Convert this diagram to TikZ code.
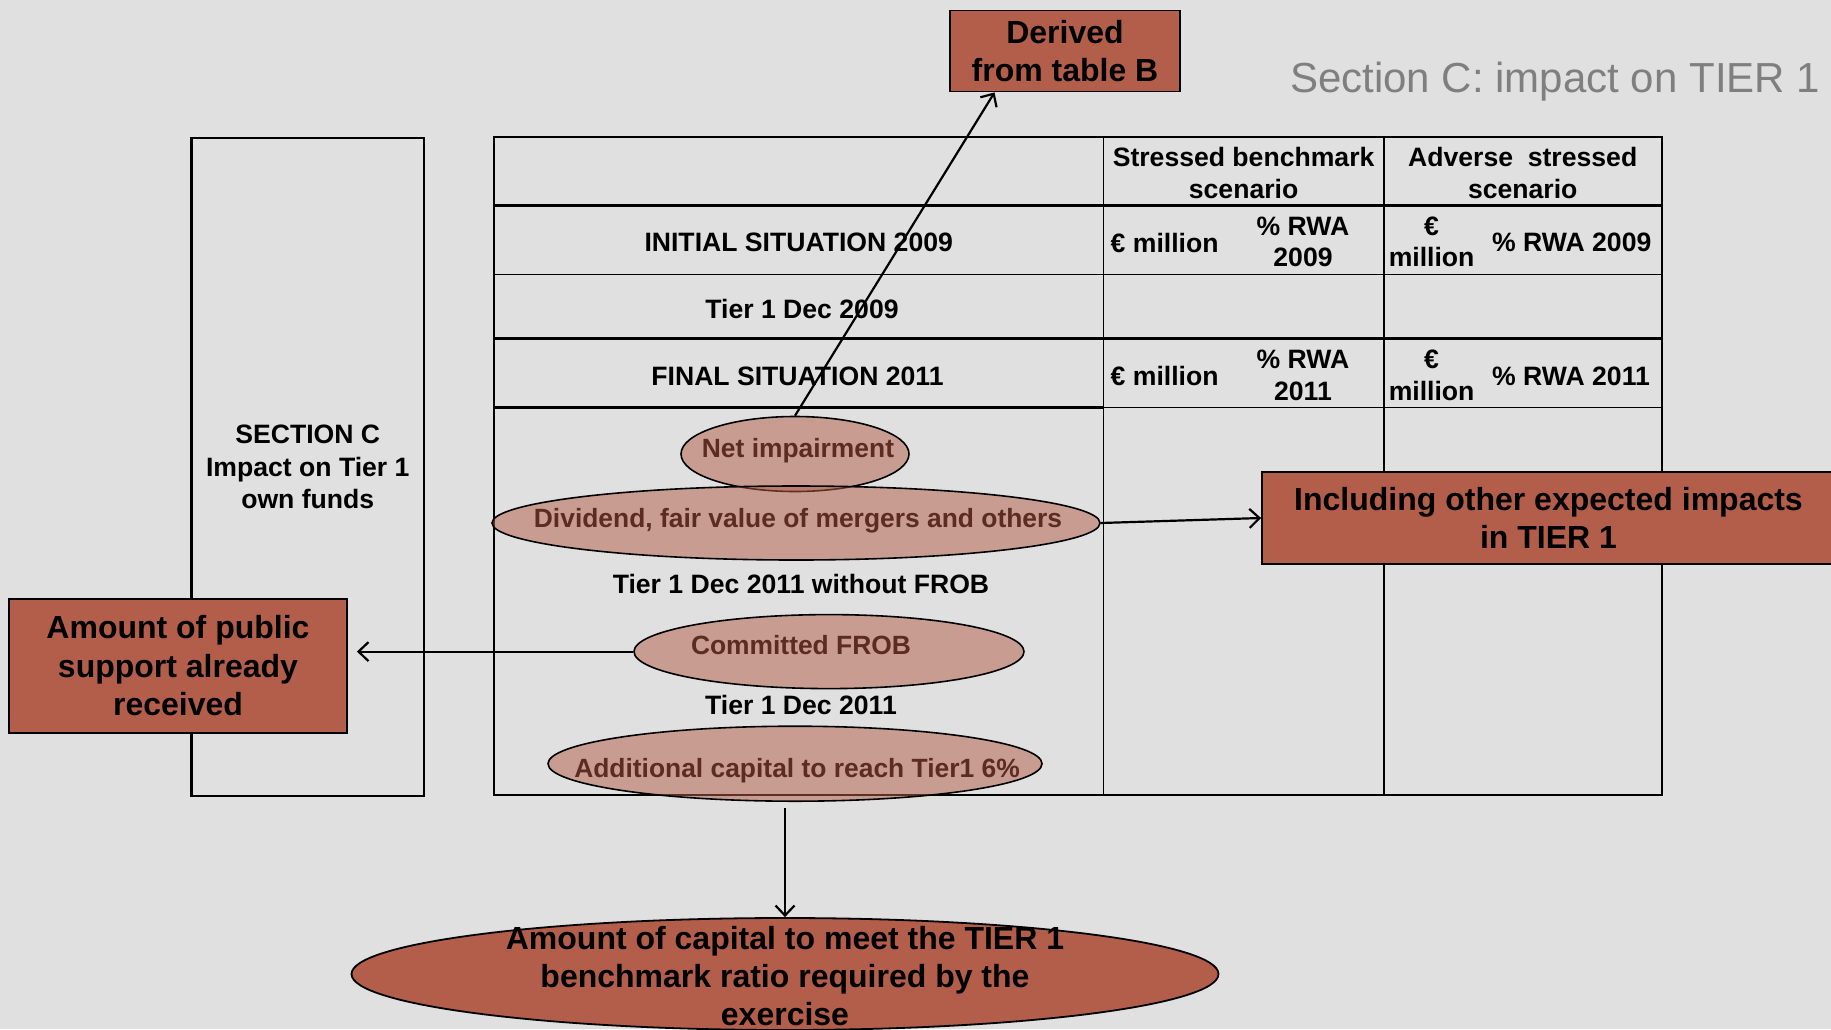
\documentclass[tikz,border=0pt]{standalone}
\usepackage{fontspec}
\setmainfont{Liberation Sans}
\usetikzlibrary{shapes.geometric,arrows.meta,calc}
\definecolor{bgc}{HTML}{E0E0E0}
\definecolor{rust}{HTML}{B35E4A}
\definecolor{elltxt}{HTML}{5C2B22}
\definecolor{titlegray}{HTML}{7F7F7F}
\begin{document}
\begin{tikzpicture}[x=1pt,y=-1pt,
  tabtxt/.style={inner sep=0pt, align=center, font=\fontsize{26.6}{31.5}\selectfont\bfseries},
  boxtxt/.style={draw, line width=1.8pt, fill=rust, inner sep=0pt, align=center, font=\fontsize{32}{38.5}\selectfont\bfseries},
  ellshape/.style={ellipse, draw, line width=1.6pt, fill=rust, fill opacity=0.52, inner sep=0pt},
  elltext/.style={inner sep=0pt, text=elltxt, font=\fontsize{26.4}{31.5}\selectfont\bfseries},
  arr/.style={line width=2.2pt, -{Straight Barb[length=10pt,width=19pt,line width=2.2pt]}},
  thin/.style={line width=1.7pt},
  thick/.style={line width=2.8pt}]
\fill[bgc] (0,0) rectangle (1831,1029);
\useasboundingbox (0,0) rectangle (1831,1029);

% title
\node[anchor=west, inner sep=0pt, text=titlegray, font=\fontsize{42}{48}\selectfont] (title) at (1290,82) {Section C: impact on TIER 1};

% left section box
\node[draw, line width=2.2pt, minimum width=232.5pt, minimum height=658.4pt, inner sep=0pt, align=center,
      font=\fontsize{26.6}{32.5}\selectfont\bfseries] (secc) at (307.75,467) {SECTION C\\Impact on Tier 1\\own funds};

% table grid
\draw[line width=2.2pt] (494,136.6) rectangle (1662,795);
\draw[thin] (1103.5,136.6) -- (1103.5,795);
\draw[thin] (1383.7,136.6) -- (1383.7,795);
\draw[thick] (494,205.5) -- (1662,205.5);
\draw[thin] (494,274.4) -- (1662,274.4);
\draw[thick] (494,338.6) -- (1662,338.6);
\draw[thick] (494,407.5) -- (1103.5,407.5);
\draw[thin] (1103.5,407.5) -- (1662,407.5);

% table texts
\node[tabtxt] (h1) at (1243.6,173) {Stressed benchmark\\scenario};
\node[tabtxt] (h2) at (1522.7,173) {Adverse\ \ stressed\\scenario};
\node[tabtxt] (r1) at (798.7,242.5) {INITIAL SITUATION 2009};
\node[tabtxt, anchor=west] (r1a) at (1110.5,242.5) {€ million};
\node[tabtxt] (r1b) at (1303,242) {\% RWA\\2009};
\node[tabtxt] (r1c) at (1431.6,242) {€\\million};
\node[tabtxt, anchor=west] (r1d) at (1492,242.5) {\% RWA 2009};
\node[tabtxt] (r2) at (802,309) {Tier 1 Dec 2009};
\node[tabtxt] (r3) at (797.5,376) {FINAL SITUATION 2011};
\node[tabtxt, anchor=west] (r3a) at (1110.5,376) {€ million};
\node[tabtxt] (r3b) at (1303,375.5) {\% RWA\\2011};
\node[tabtxt] (r3c) at (1431.6,375.5) {€\\million};
\node[tabtxt, anchor=west] (r3d) at (1492,376) {\% RWA 2011};
\node[tabtxt] (w1) at (801,584) {Tier 1 Dec 2011 without FROB};
\node[tabtxt] (w2) at (801,705) {Tier 1 Dec 2011};

% ellipses
\node[ellshape, minimum width=228pt, minimum height=75pt] (net) at (795,454) {};
\node[ellshape, minimum width=608pt, minimum height=74pt] (div) at (796,523) {};
\node[ellshape, minimum width=390pt, minimum height=74pt] (frob) at (829,651.6) {};
\node[ellshape, minimum width=494pt, minimum height=75pt] (add) at (795,763.7) {};
\node[elltext] (nett) at (798,450.5) {Net impairment};
\node[elltext] (divt) at (798,520.5) {Dividend, fair value of mergers and others};
\node[elltext] (frobt) at (801,645) {Committed FROB};
\node[elltext] (addt) at (797,770.5) {Additional capital to reach Tier1 6\%};

% boxes
\node[boxtxt, minimum width=230pt, minimum height=81pt] (der) at (1065,51) {Derived\\from table B};
\node[boxtxt, minimum width=573pt, minimum height=92pt] (incl) at (1548.5,518) {Including other expected impacts\\in TIER 1};
\node[boxtxt, minimum width=338pt, minimum height=134pt] (pub) at (178,666) {Amount of public\\support already\\received};
\node[ellipse, draw, line width=1.8pt, fill=rust, minimum width=867pt, minimum height=112pt, inner sep=0pt] (bot) at (785,974) {};
\node[inner sep=0pt, align=center, font=\fontsize{32}{38}\selectfont\bfseries] (bott) at (785,976.5) {Amount of capital to meet the TIER 1\\benchmark ratio required by the\\exercise};

% connectors
\coordinate (derin) at ($(der.south west)!0.196!(der.south east)$);
\draw[arr] (net.north) -- (derin);
\draw[arr] (div.east) -- (incl.west);
\draw[arr, shorten >=9pt] (frob.west) -- (frob.west -| pub.east);
\coordinate (dstart) at (785,808);
\draw[arr] (dstart) -- (bot.north);
\end{tikzpicture}
\end{document}
